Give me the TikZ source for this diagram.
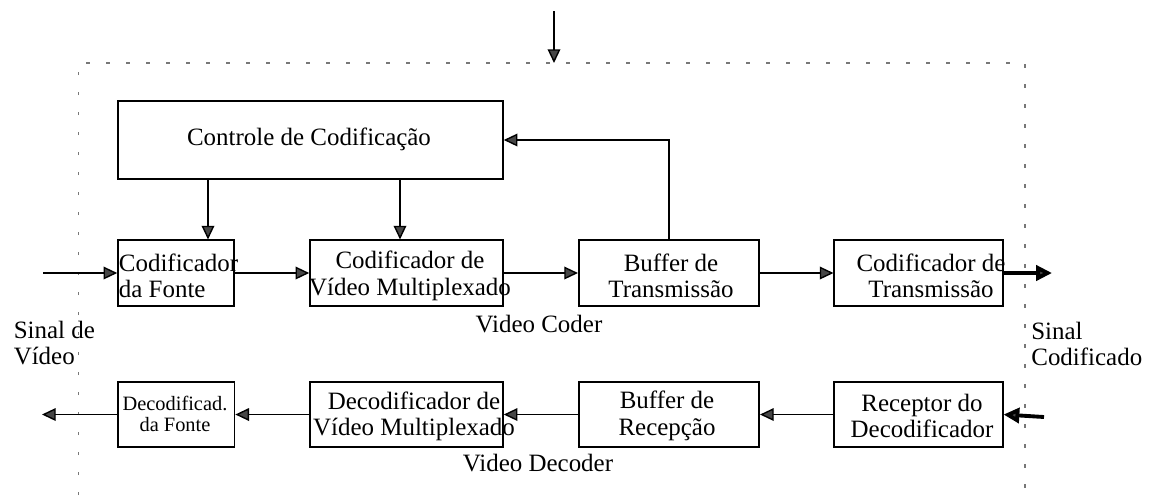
\documentclass[tikz,border=0pt]{standalone}
\usepackage{fontspec}
\setmainfont{Liberation Serif}
\usetikzlibrary{arrows.meta}
\definecolor{framegray}{RGB}{120,120,120}
\definecolor{tipgray}{RGB}{70,70,70}

\begin{document}
\begin{tikzpicture}[x=0.02cm, y=-0.02cm,
	blk/.style={draw, line width=0.9pt, inner sep=0pt},
	lbl/.style={font=\fontsize{14.2}{15.1}\selectfont, inner sep=0pt},
	smalllbl/.style={font=\fontsize{11.6}{11.6}\selectfont, inner sep=0pt},
	arr/.style={line width=0.8pt, -{Triangle[length=7.8pt, width=7.2pt, fill=tipgray]}},
	thickarr/.style={line width=2.2pt, -{Triangle[length=9pt, width=8.5pt, fill=tipgray]}},
	coderframe/.style={draw=framegray, line width=1pt, dash pattern=on 0.07cm off 0.33cm}]
			\useasboundingbox (0,0) rectangle (1151,495);

			% Dotted frame
			\draw[coderframe] (78.5,495) -- (78.5,63) -- (1025,63) -- (1025,495);

			% Coder blocks
			\node[blk, minimum width=7.7cm, minimum height=1.55cm] (ctrl) at (310.5,140) {};
			\node[blk, minimum width=2.32cm, minimum height=1.31cm] (cfonte) at (176,273) {};
			\node[blk, minimum width=3.86cm, minimum height=1.31cm] (cvm) at (406.5,273) {};
			\node[blk, minimum width=3.61cm, minimum height=1.31cm] (btx) at (669,273) {};
			\node[blk, minimum width=3.37cm, minimum height=1.31cm] (ctx) at (918.5,273) {};

			% Decoder blocks
			\node[blk, minimum width=2.33cm, minimum height=1.29cm] (dfonte) at (176.3,414.5) {};
			\node[blk, minimum width=3.86cm, minimum height=1.29cm] (dvm) at (406.5,414.5) {};
			\node[blk, minimum width=3.61cm, minimum height=1.29cm] (brx) at (669,414.5) {};
			\node[blk, minimum width=3.37cm, minimum height=1.29cm] (rdec) at (918.5,414.5) {};

			% Block texts
			\node[lbl] (ctrltxt) at (309,139) {Controle de Codificação};
			\node[lbl, align=left] (cfontetxt) at (178.5,276) {Codificador\\da Fonte};
			\node[lbl, align=center] (cvmtxt) at (410,276) {Codificador de\\Vídeo Multiplexado};
			\node[lbl, align=center] (btxtxt) at (671,276) {Buffer de\\Transmissão};
			\node[lbl, align=center] (ctxtxt) at (931,276) {Codificador de\\Transmissão};
			\node[smalllbl, align=center] (dfontetxt) at (175,414) {Decodificad.\\da Fonte};
			\node[lbl, align=center] (dvmtxt) at (414,416.5) {Decodificador de\\Vídeo Multiplexado};
			\node[lbl, align=center] (brxtxt) at (667,416) {Buffer de\\Recepção};
			\node[lbl, align=center] (rdectxt) at (922,416) {Receptor do\\Decodificador};

			% Outside labels
			\node[lbl] (codertxt) at (539,324) {Video Coder};
			\node[lbl] (decodertxt) at (538,463) {Video Decoder};
			\node[lbl, align=left, anchor=west] (sinalin) at (13.4,343) {Sinal de\\Vídeo};
			\node[lbl, align=left, anchor=west] (sinalout) at (1031,344) {Sinal\\Codificado};

			% Free ends
			\coordinate (ctlin) at (554,11);
			\coordinate (ctlend) at (554,63);
			\coordinate (vin) at (43,273);
			\coordinate (vout) at (1052,273);
			\coordinate (rin) at (1044,417);
			\coordinate (vsaida) at (42,414.5);
			\coordinate (ctlA) at (208,0);
			\coordinate (ctlB) at (400,0);

			% Coder arrows
			\draw[arr] (ctlin) -- (ctlend);
			\draw[arr] (ctrl.south -| ctlA) -- (cfonte.north -| ctlA);
			\draw[arr] (ctrl.south -| ctlB) -- (cvm.north -| ctlB);
			\draw[arr] (vin) -- (cfonte.west);
			\draw[arr] (cfonte.east) -- (cvm.west);
			\draw[arr] (cvm.east) -- (btx.west);
			\draw[arr] (btx.east) -- (ctx.west);
			\draw[thickarr] (ctx.east) -- (vout);
			\draw[arr] (btx.north) |- (ctrl.east);

			% Decoder arrows
			\draw[thickarr] (rin) -- (rdec.east);
			\draw[arr] (rdec.west) -- (brx.east);
			\draw[arr] (brx.west) -- (dvm.east);
			\draw[arr] (dvm.west) -- (dfonte.east);
			\draw[arr] (dfonte.west) -- (vsaida);

		\end{tikzpicture}
\end{document}
